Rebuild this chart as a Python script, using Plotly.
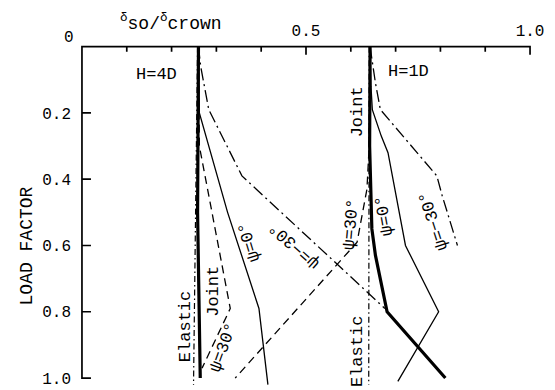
import plotly.graph_objects as go

# ---------------- data ----------------
x_tick_vals = [0.5, 1.0]
x_tick_text = ["0.5", "1.0"]
x_minor_ticks = [0.0, 0.1, 0.2, 0.3, 0.4, 0.5, 0.6, 0.7, 0.8, 0.9, 1.0]
y_tick_vals = [0.2, 0.4, 0.6, 0.8, 1.0]
y_tick_text = ["0.2", "0.4", "0.6", "0.8", "1.0"]

# H = 4D
elastic_4d_x = [0.258, 0.249]
elastic_4d_y = [0.0, 1.02]
joint_4d_x = [0.260, 0.258, 0.264]
joint_4d_y = [0.0, 0.50, 1.0]
psi0_4d_x = [0.260, 0.262, 0.325, 0.395, 0.415]
psi0_4d_y = [0.0, 0.20, 0.50, 0.79, 1.02]
psi30_4d_x = [0.260, 0.262, 0.331, 0.268]
psi30_4d_y = [0.0, 0.30, 0.79, 0.97]
psim30_4d_x = [0.260, 0.265, 0.283, 0.357, 0.676]
psim30_4d_y = [0.0, 0.06, 0.19, 0.39, 0.79]

# H = 1D
elastic_1d_x = [0.641, 0.640]
elastic_1d_y = [0.0, 1.02]
joint_1d_x = [0.643, 0.642, 0.647, 0.655, 0.681, 0.811]
joint_1d_y = [0.0, 0.30, 0.55, 0.63, 0.80, 1.0]
psi0_1d_x = [0.643, 0.645, 0.648, 0.668, 0.683, 0.697, 0.722, 0.796, 0.705]
psi0_1d_y = [0.0, 0.12, 0.19, 0.27, 0.32, 0.42, 0.60, 0.80, 1.01]
psi30_1d_x = [0.643, 0.641, 0.636, 0.614, 0.342]
psi30_1d_y = [0.0, 0.30, 0.43, 0.59, 1.0]
psim30_1d_x = [0.643, 0.655, 0.666, 0.792, 0.804, 0.838]
psim30_1d_y = [0.0, 0.11, 0.19, 0.39, 0.45, 0.60]

# labels (text, x, y, angle)
label_text = ["H=4D", "H=1D", "Elastic", "Joint", "ψ=30°", "ψ=0°", "ψ=−30°",
              "Joint", "ψ=30°", "ψ=0°", "ψ=−30°", "Elastic"]
label_x = [0.166, 0.728, 0.231, 0.293, 0.316, 0.373, 0.474,
           0.614, 0.601, 0.675, 0.785, 0.615]
label_y = [0.084, 0.075, 0.845, 0.739, 0.908, 0.59, 0.60,
           0.198, 0.537, 0.51, 0.525, 0.92]
label_angle = [0, 0, -90, -90, -70, -107, -138,
               -90, -85, -100, -108, -90]

FONT = "Liberation Mono"
BLACK = "black"

# plot geometry (pixels); axes ranges padded so the frame sits inside the plot area
W, H = 555, 390
L, R, T, B = 73, 16, 40, 2
X_RANGE = [-0.02, 1.02]
Y_RANGE = [1.03, -0.02]
px_x = (X_RANGE[1] - X_RANGE[0]) / (W - L - R)
px_y = (Y_RANGE[0] - Y_RANGE[1]) / (H - T - B)

fig = go.Figure()

# axis frame (left y axis + top x axis) with inside ticks, one continuous path, drawn first
x0, y0 = x_minor_ticks[0], 0.0
frame_x, frame_y = [], []
for v in reversed(y_tick_vals):
    frame_x += [x0, x0 + 9 * px_x, x0]
    frame_y += [v, v, v]
frame_x += [x0]
frame_y += [y0]
for v in x_minor_ticks:
    ln = (8 if v in x_tick_vals else 5) * px_y
    frame_x += [v, v, v]
    frame_y += [y0, y0 + ln, y0]
fig.add_trace(go.Scatter(x=frame_x, y=frame_y, mode="lines",
                         line=dict(color=BLACK, width=1.7, simplify=False),
                         showlegend=False, hoverinfo="skip"))

def add_line(xs, ys, width, dash):
    fig.add_trace(go.Scatter(x=xs, y=ys, mode="lines",
                             line=dict(color=BLACK, width=width, dash=dash),
                             showlegend=False, hoverinfo="skip"))

ELASTIC_DASH = "6px,3px,1.5px,3px"
LONG_DASHDOT = "12px,4px,2px,4px"
DASH = "8px,5px"

add_line(elastic_4d_x, elastic_4d_y, 1.2, ELASTIC_DASH)
add_line(psi0_4d_x, psi0_4d_y, 1.3, "solid")
add_line(psi30_4d_x, psi30_4d_y, 1.3, DASH)
add_line(psim30_4d_x, psim30_4d_y, 1.3, LONG_DASHDOT)
add_line(joint_4d_x, joint_4d_y, 3.2, "solid")

add_line(elastic_1d_x, elastic_1d_y, 1.2, ELASTIC_DASH)
add_line(psi0_1d_x, psi0_1d_y, 1.3, "solid")
add_line(psi30_1d_x, psi30_1d_y, 1.3, DASH)
add_line(psim30_1d_x, psim30_1d_y, 1.3, LONG_DASHDOT)
add_line(joint_1d_x, joint_1d_y, 3.2, "solid")

annotations = []
for t, x, y, a in zip(label_text, label_x, label_y, label_angle):
    annotations.append(dict(text=t, x=x, y=y, xref="x", yref="y",
                            showarrow=False, textangle=a,
                            font=dict(family=FONT, size=17, color=BLACK)))

annotations.append(dict(text="<sup>δ</sup>so/<sup>δ</sup>crown", x=0.081, y=0.0,
                        xref="x", yref="y", xanchor="left", yanchor="bottom",
                        yshift=11, showarrow=False,
                        font=dict(family=FONT, size=18, color=BLACK)))
annotations.append(dict(text="LOAD FACTOR", x=0, y=0.6, xref="x", yref="y",
                        xanchor="center", yanchor="middle",
                        xshift=-54, showarrow=False, textangle=-90,
                        font=dict(family=FONT, size=18, color=BLACK)))
annotations.append(dict(text="0", x=0, y=0, xref="x", yref="y",
                        xshift=-13, yshift=9, showarrow=False,
                        font=dict(family=FONT, size=16, color=BLACK)))

fig.update_layout(
    template="simple_white",
    width=W, height=H,
    margin=dict(l=L, r=R, t=T, b=B, autoexpand=False),
    paper_bgcolor="white", plot_bgcolor="white",
    font=dict(family=FONT, size=16, color=BLACK),
    annotations=annotations,
)
fig.update_xaxes(range=X_RANGE, side="top", showgrid=False, zeroline=False,
                 automargin=False, showline=False, ticks="",
                 tickmode="array", tickvals=x_tick_vals, ticktext=x_tick_text,
                 ticklabelstandoff=0,
                 tickfont=dict(family=FONT, size=16, color=BLACK))
fig.update_yaxes(range=Y_RANGE, showgrid=False, zeroline=False,
                 automargin=False, showline=False, ticks="",
                 tickmode="array", tickvals=y_tick_vals, ticktext=y_tick_text,
                 ticklabelstandoff=1,
                 tickfont=dict(family=FONT, size=16, color=BLACK))

fig.write_html("out.html")
